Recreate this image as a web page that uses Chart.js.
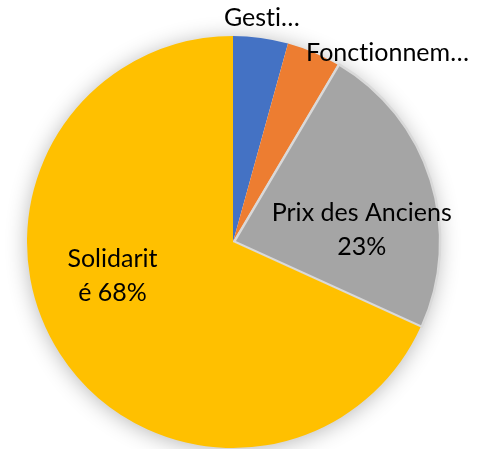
<!DOCTYPE html>
<html>
<head>
<meta charset="utf-8">
<script src="https://cdn.jsdelivr.net/npm/chart.js@4"></script>
<style>
  html, body { margin: 0; padding: 0; background: #fff; }
  #wrap { width: 498px; height: 449px; }
</style>
</head>
<body>
<div id="wrap"><canvas id="myChart" width="498" height="449"></canvas></div>
<script>
// data
const categories = ['Gestion', 'Fonctionnement', 'Prix des Anciens', 'Solidarité'];
const shares = [4.3, 4.2, 23.3, 68.2];
const colors = ['#4472C4', '#ED7D31', '#A5A5A5', '#FFC000'];

// text shown on the slices (as truncated in the original)
const shownLines = [
    ['Gesti…'],
    ['Fonctionnem…'],
    ['Prix des Anciens', '{p}'],
    ['Solidarit', 'é {p}']
];
// where each label sits, relative to the pie centre, in units of radius
const labelSpots = [
    [0.14, -1.09],
    [0.75, -0.92],
    [0.625, -0.058],
    [-0.585, 0.163]
];

// soft shadow under the whole pie (drawn once, behind the slices)
const shadowPlugin = {
    id: 'pieShadow',
    beforeDatasetsDraw(chart) {
        const ctx = chart.ctx;
        const arc = chart.getDatasetMeta(0).data[0];
        ctx.save();
        ctx.shadowColor = 'rgba(0,0,0,0.3)';
        ctx.shadowBlur = 22;
        ctx.shadowOffsetY = 2;
        ctx.fillStyle = '#fff';
        ctx.beginPath();
        ctx.arc(arc.x, arc.y, arc.outerRadius - 1, 0, Math.PI * 2);
        ctx.fill();
        ctx.restore();
    }
};

const labelPlugin = {
    id: 'sliceLabels',
    afterDraw(chart) {
        const ctx = chart.ctx;
        const arc0 = chart.getDatasetMeta(0).data[0];
        const cx = arc0.x, cy = arc0.y, r = arc0.outerRadius;
        const total = shares.reduce((a, b) => a + b, 0);
        ctx.save();
        ctx.fillStyle = '#000';
        ctx.font = '25px Lato';
        ctx.letterSpacing = '0.01px'; // stops the "ti" ligature
        ctx.textAlign = 'center';
        ctx.textBaseline = 'middle';
        shownLines.forEach((lines, i) => {
            const pct = Math.round(shares[i] / total * 100) + '%';
            const x = cx + labelSpots[i][0] * r;
            const y = cy + labelSpots[i][1] * r;
            lines.forEach((line, j) => {
                const yy = y + (j - (lines.length - 1) / 2) * 34;
                ctx.fillText(line.replace('{p}', pct), x, yy);
            });
        });
        ctx.restore();
    }
};

const config = {
    type: 'pie',
    data: {
        labels: categories,
        datasets: [{
            data: shares,
            backgroundColor: colors,
            borderColor: ['#4472C4', '#ED7D31', '#D9D9D9', '#FFC000'],
            borderWidth: [0, 0, 2.5, 0],
            offset: [0, 0, 5, 0]
        }]
    },
    options: {
        responsive: false,
        animation: false,
        radius: 206,
        layout: {
            padding: { left: 0, right: 32, top: 35, bottom: 0 }
        },
        plugins: {
            legend: { display: false },
            tooltip: { enabled: false }
        }
    },
    plugins: [shadowPlugin, labelPlugin]
};

const myChart = new Chart(document.getElementById('myChart'), config);
</script>
</body>
</html>
